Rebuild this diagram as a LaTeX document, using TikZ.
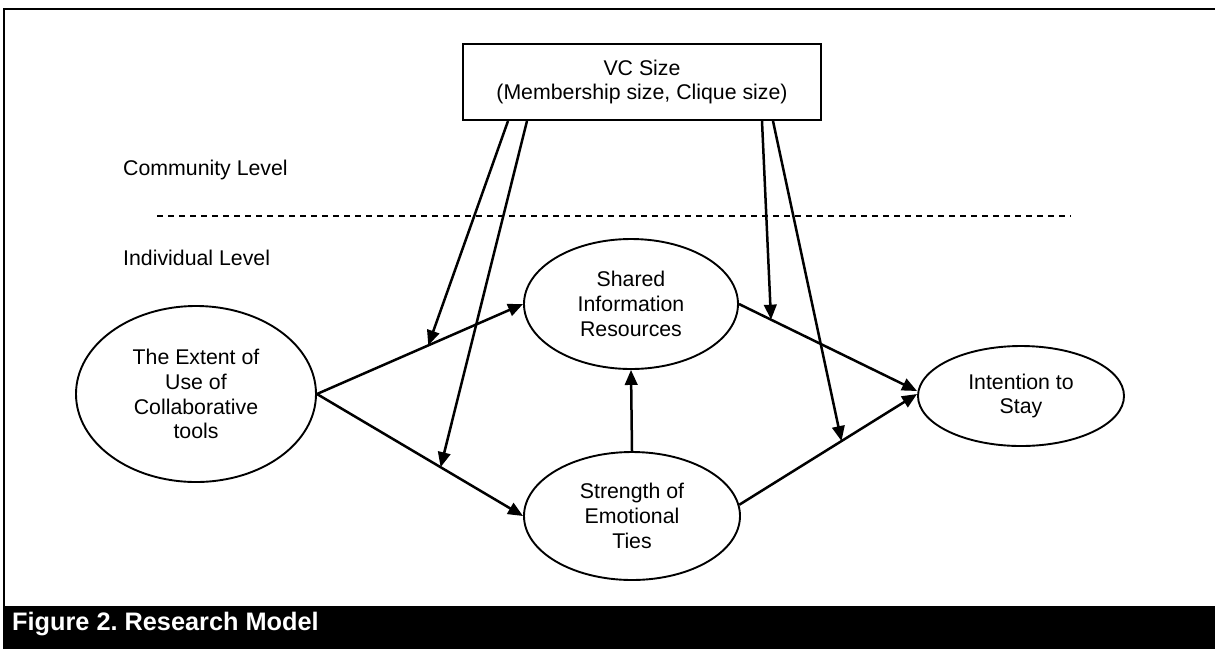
\documentclass[tikz,border=0pt]{standalone}
\usepackage{fontspec}
\setmainfont{Liberation Sans}
\usetikzlibrary{arrows.meta,shapes.geometric,calc}
\frenchspacing
\begin{document}
\begin{tikzpicture}[x=1pt,y=-1pt,
  lbl/.style={font=\fontsize{21.3}{24.5}\selectfont},
  oval/.style={ellipse, draw, line width=1.9pt, inner sep=0pt, align=center, font=\fontsize{21.3}{24.8}\selectfont},
  conn/.style={line width=2.5pt, -{Triangle[length=15pt,width=12.5pt]}},
  frameline/.style={line width=2.5pt},
]
\useasboundingbox (0,0) rectangle (1215,649);
\fill[white] (0,0) rectangle (1215,649);
% frame and caption bar
\coordinate (fbl) at (4,606);
\coordinate (ftl) at (4,9);
\coordinate (ftr) at (1215,9);
\draw[frameline] (fbl) -- (ftl) -- (ftr);
\fill[black] (3,606) rectangle (1215,649);
\node[anchor=base west, text=white, inner sep=0pt, font=\bfseries\fontsize{25.3}{28}\selectfont] (cap) at (12,630) {Figure 2.\ Research Model};
% top box
\node[draw, line width=2pt, minimum width=358pt, minimum height=76pt, align=center, lbl] (vc) at (642,82) {VC Size\\(Membership size, Clique size)};
% level labels and divider
\node[lbl, anchor=base west, inner sep=0pt] (comm) at (123,175) {Community Level};
\node[lbl, anchor=base west, inner sep=0pt] (ind) at (123,265.5) {Individual Level};
\coordinate (dl) at (157,216);
\coordinate (dr) at (1071,216);
\draw[line width=1.5pt, dash pattern=on 6pt off 5pt] (dl) -- (dr);
% constructs
\node[oval, minimum width=240pt, minimum height=176pt] (ext) at (196,394) {The Extent of\\Use of\\Collaborative\\tools};
\node[oval, minimum width=214pt, minimum height=130pt] (sh) at (631,304) {Shared\\Information\\Resources};
\node[oval, minimum width=216pt, minimum height=128pt] (st) at (632,516) {Strength of\\Emotional\\Ties};
\node[oval, minimum width=206pt, minimum height=100pt] (int) at (1021,396) {Intention to\\Stay};
% paths
\draw[conn] (ext.east) -- coordinate[pos=0.54] (m1) (sh.west);
\draw[conn] (ext.east) -- coordinate[pos=0.6] (m2) (st.west);
\draw[conn] (st.north) -- (sh.south);
\draw[conn] (sh.east) -- coordinate[pos=0.18] (m3) ([yshift=5pt]int.west);
\draw[conn] (st.6) -- coordinate[pos=0.575] (m4) ([yshift=2pt]int.west);
% moderating arrows
\draw[conn] ([xshift=-134pt]vc.south) -- (m1);
\draw[conn] ([xshift=-115pt]vc.south) -- (m2);
\draw[conn] ([xshift=120pt]vc.south) -- (m3);
\draw[conn] ([xshift=131pt]vc.south) -- (m4);
\end{tikzpicture}
\end{document}
